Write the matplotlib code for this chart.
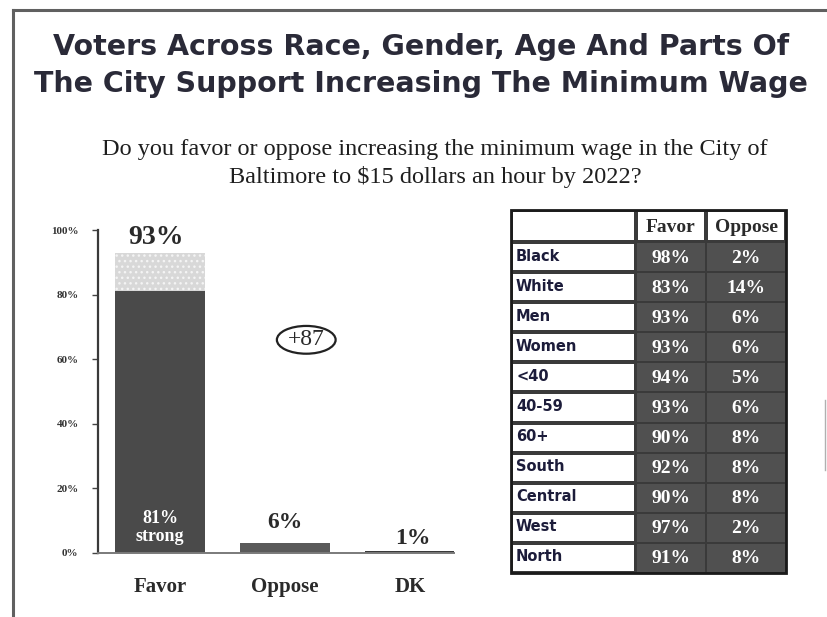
import matplotlib
matplotlib.use("Agg")
import matplotlib.pyplot as plt
from matplotlib.patches import Rectangle, Ellipse

# ---------------- data ----------------
categories = ["Favor", "Oppose", "DK"]
strong_values = [81, 3, 0.5]        # strong portion (dark)
total_values = [93, 6, 1]           # total (labels)
bar_labels = ["93%", "6%", "1%"]
margin_label = "+87"
yticks = [0, 20, 40, 60, 80, 100]
ytick_labels = ["0%", "20%", "40%", "60%", "80%", "100%"]

groups = ["Black", "White", "Men", "Women", "<40", "40-59", "60+",
          "South", "Central", "West", "North"]
favor = [98, 83, 93, 93, 94, 93, 90, 92, 90, 97, 91]
oppose = [2, 14, 6, 6, 5, 6, 8, 8, 8, 2, 8]
table_header = ["Favor", "Oppose"]

title_lines = ["Voters Across Race, Gender, Age And Parts Of",
               "The City Support Increasing The Minimum Wage"]
subtitle_lines = ["Do you favor or oppose increasing the minimum wage in the City of",
                  "Baltimore to $15 dollars an hour by 2022?"]

W, H = 827, 617
fig = plt.figure(figsize=(W / 100, H / 100), dpi=100)
fig.patch.set_facecolor("white")

# overlay axes in pixel coordinates for frame + table + titles
ov = fig.add_axes([0, 0, 1, 1])
ov.set_xlim(0, W)
ov.set_ylim(H, 0)
ov.axis("off")

# page frame
ov.plot([13, 13], [10, H], color="#606060", lw=2.2)
ov.plot([13, W], [10, 10], color="#606060", lw=2.2)
ov.plot([825, 825], [400, 470], color="#b0b0b0", lw=1)

title_color = "#2a2a38"
ov.text(421, 47, title_lines[0], ha="center", va="center", fontsize=20.5,
        fontweight="bold", family="DejaVu Sans", color=title_color)
ov.text(421, 84, title_lines[1], ha="center", va="center", fontsize=20.5,
        fontweight="bold", family="DejaVu Sans", color=title_color)
ov.text(435, 149, subtitle_lines[0], ha="center", va="center", fontsize=17.5,
        family="Liberation Serif", color="#1e1e1e")
ov.text(435, 177, subtitle_lines[1], ha="center", va="center", fontsize=17.5,
        family="Liberation Serif", color="#1e1e1e")

# ---------------- table ----------------
x0, x1, x2, x3 = 511, 636, 706, 786
ytop, yhead = 210, 242
row_h = (573 - yhead) / len(groups)
ybot = yhead + row_h * len(groups)
ov.add_patch(Rectangle((x0, ytop), x3 - x0, ybot - ytop, facecolor="#3a3a3a",
                       edgecolor="#1a1a1a", lw=2, zorder=1))
# header cells
for (a, b) in [(x0, x1), (x1, x2), (x2, x3)]:
    ov.add_patch(Rectangle((a + 2, ytop + 2), b - a - 4, yhead - ytop - 4,
                           facecolor="white", edgecolor="none", zorder=2))
for (a, b), lab in zip([(x1, x2), (x2, x3)], table_header):
    ov.text((a + b) / 2, (ytop + yhead) / 2 + 1, lab, ha="center", va="center",
            fontsize=14, fontweight="bold", family="Liberation Serif",
            color="#2a2a2a", zorder=3)
for i, (g, f, o) in enumerate(zip(groups, favor, oppose)):
    ya = yhead + i * row_h
    ov.add_patch(Rectangle((x0 + 2, ya + 2), x1 - x0 - 4, row_h - 4,
                           facecolor="white", edgecolor="none", zorder=2))
    for (a, b) in [(x1, x2), (x2, x3)]:
        ov.add_patch(Rectangle((a + 1, ya + 1), b - a - 2, row_h - 2,
                               facecolor="#505050", edgecolor="none", zorder=2))
    yc = ya + row_h / 2
    ov.text(x0 + 5, yc - 1, g, ha="left", va="center", fontsize=10.5,
            fontweight="bold", family="DejaVu Sans", color="#1c1c3a", zorder=3)
    ov.text((x1 + x2) / 2, yc + 1, f"{f}%", ha="center", va="center",
            fontsize=14, fontweight="bold", family="Liberation Serif",
            color="white", zorder=3)
    ov.text((x2 + x3) / 2, yc + 1, f"{o}%", ha="center", va="center",
            fontsize=14, fontweight="bold", family="Liberation Serif",
            color="white", zorder=3)

# ---------------- bar chart ----------------
ax_l, ax_r, ax_b, ax_t = 98, 454, 553, 230
ax = fig.add_axes([ax_l / W, (H - ax_b) / H, (ax_r - ax_l) / W, (ax_b - ax_t) / H])
ax.patch.set_alpha(0)
spacing = 125.0
x_first = 160
xmin = -(x_first - ax_l) / spacing
xmax = xmin + (ax_r - ax_l) / spacing
ax.set_xlim(xmin, xmax)
ax.set_ylim(0, 100)
xs = list(range(len(categories)))
bw = 0.72

# light (not strong) part of favor
ax.bar(xs[0], total_values[0], width=bw, color="#d8d8d8", hatch="...",
       edgecolor="#f4f4f4", lw=0, zorder=1)
ax.bar(xs, strong_values, width=bw, color=["#4a4a4a", "#5a5a5a", "#3a3a3a"],
       edgecolor="none", zorder=2)

for sp in ["top", "right"]:
    ax.spines[sp].set_visible(False)
ax.spines["left"].set_color("#3a3a3a")
ax.spines["left"].set_linewidth(1.6)
ax.spines["bottom"].set_color("#7a7a7a")
ax.spines["bottom"].set_linewidth(1.4)

ax.set_yticks(yticks)
ax.set_yticklabels(ytick_labels, fontsize=8, fontweight="bold",
                   family="Liberation Serif", color="#333333")
ax.tick_params(axis="y", length=4, width=1, color="#444444", pad=10)
ax.set_xticks(xs)
ax.set_xticklabels(categories, fontsize=15, fontweight="bold",
                   family="Liberation Serif", color="#2a2a2a")
ax.tick_params(axis="x", length=0, pad=17)

ax.text(xs[0] - 0.03, 97.8, bar_labels[0], ha="center", va="center",
        fontsize=20, fontweight="bold", family="Liberation Serif", color="#2a2a2a")
ax.text(xs[1], 9.3, bar_labels[1], ha="center", va="center",
        fontsize=17, fontweight="bold", family="Liberation Serif", color="#2a2a2a")
ax.text(xs[2] + 0.02, 4.6, bar_labels[2], ha="center", va="center",
        fontsize=17, fontweight="bold", family="Liberation Serif", color="#2a2a2a")
ax.text(xs[0], 8.0, f"{strong_values[0]}%\nstrong", ha="center", va="center",
        fontsize=13, fontweight="bold", family="Liberation Serif", color="white",
        linespacing=1.1, zorder=3)

# +87 in ellipse
ex, ey = 1.17, 66
ax.add_patch(Ellipse((ex, ey), 0.47, 8.6, facecolor="none", edgecolor="#222222",
                     lw=1.6, zorder=3))
ax.text(ex, ey, margin_label, ha="center", va="center", fontsize=17,
        family="Liberation Serif", color="#2a2a2a")

fig.savefig("out.png", dpi=100, facecolor="white")
